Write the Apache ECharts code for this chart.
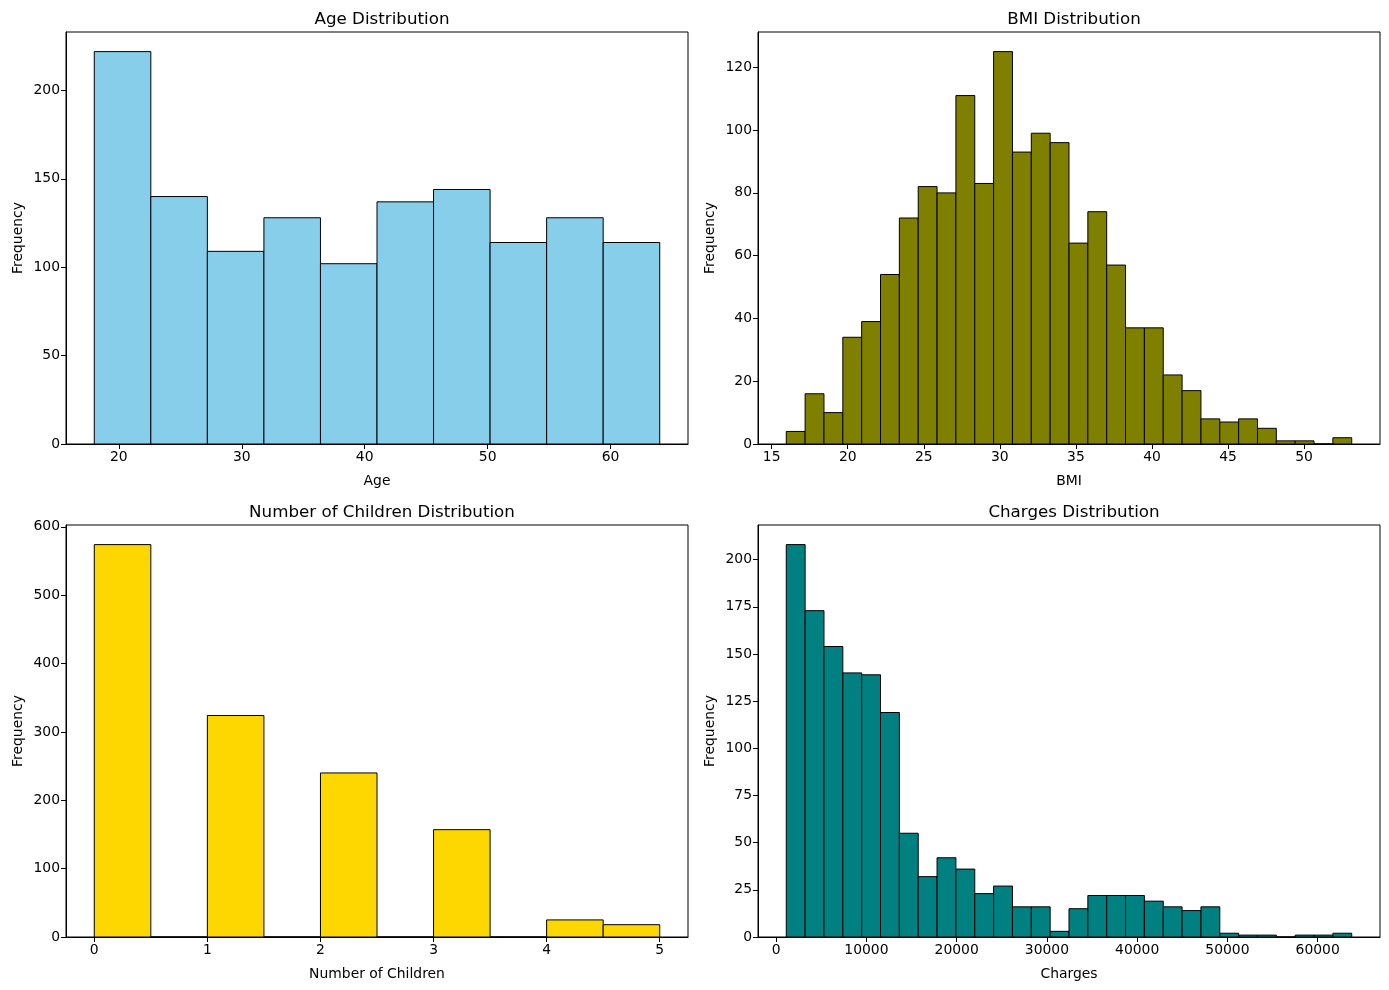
<!DOCTYPE html>
<html>
<head>
<meta charset="utf-8">
<script src="https://cdn.jsdelivr.net/npm/echarts@6/dist/echarts.min.js"></script>
<style>html,body{margin:0;padding:0;background:#fff}#c{width:1389px;height:990px}</style>
</head>
<body>
<div id="c"></div>
<script>
// ---- Data ----
const ageRange = [18, 64];
const ageCounts = [222, 140, 109, 128, 102, 137, 144, 114, 128, 114];
const ageXTicks = [20, 30, 40, 50, 60];
const ageYTicks = [0, 50, 100, 150, 200];

const bmiRange = [15.96, 53.13];
const bmiCounts = [4, 16, 10, 34, 39, 54, 72, 82, 80, 111, 83, 125, 93, 99, 96, 64, 74, 57, 37, 37, 22, 17, 8, 7, 8, 5, 1, 1, 0, 2];
const bmiXTicks = [15, 20, 25, 30, 35, 40, 45, 50];
const bmiYTicks = [0, 20, 40, 60, 80, 100, 120];

const childRange = [0, 5];
const childCounts = [574, 0, 324, 0, 240, 0, 157, 0, 25, 18];
const childXTicks = [0, 1, 2, 3, 4, 5];
const childYTicks = [0, 100, 200, 300, 400, 500, 600];

const chargeRange = [1121.87, 63770.43];
const chargeCounts = [208, 173, 154, 140, 139, 119, 55, 32, 42, 36, 23, 27, 16, 16, 3, 15, 22, 22, 22, 19, 16, 14, 16, 2, 1, 1, 0, 1, 1, 2];
const chargeXTicks = [0, 10000, 20000, 30000, 40000, 50000, 60000];
const chargeYTicks = [0, 25, 50, 75, 100, 125, 150, 175, 200];

const titles = ['Age Distribution', 'BMI Distribution', 'Number of Children Distribution', 'Charges Distribution'];
const xNames = ['Age', 'BMI', 'Number of Children', 'Charges'];
const colors = ['#87CEEB', '#808000', '#FFD700', '#008080'];

// ---- Build ----
function bins(range, counts) {
  const w = (range[1] - range[0]) / counts.length;
  return counts.map((c, i) => [range[0] + i * w, range[0] + (i + 1) * w, c]);
}
const panels = [
  {range: ageRange, counts: ageCounts, xt: ageXTicks, yt: ageYTicks},
  {range: bmiRange, counts: bmiCounts, xt: bmiXTicks, yt: bmiYTicks},
  {range: childRange, counts: childCounts, xt: childXTicks, yt: childYTicks},
  {range: chargeRange, counts: chargeCounts, xt: chargeXTicks, yt: chargeYTicks}
];
const gridPos = [
  {left: 66, top: 32}, {left: 758, top: 32},
  {left: 66, top: 525}, {left: 758, top: 525}
];
const GW = 622, GH = 412;
const FONT = 'DejaVu Sans';
const tickFont = 13.9;
const plain = v => String(v);

const option = {
  animation: false,
  backgroundColor: '#fff',
  title: [], grid: [], xAxis: [], yAxis: [], series: []
};

panels.forEach((p, i) => {
  const span = p.range[1] - p.range[0];
  const xmin = p.range[0] - span * 0.05, xmax = p.range[1] + span * 0.05;
  const ymax = Math.max(...p.counts) * 1.05;
  const g = gridPos[i];
  option.title.push({
    text: titles[i], left: g.left + GW / 2, top: g.top - 26, textAlign: 'center',
    textStyle: {fontFamily: FONT, fontSize: 16.7, fontWeight: 'normal', color: '#000'}
  });
  option.grid.push({left: g.left, top: g.top, width: GW, height: GH, show: true, borderColor: '#000', borderWidth: 1, backgroundColor: 'transparent'});
  option.xAxis.push({
    type: 'value', gridIndex: i, min: xmin, max: xmax,
    name: xNames[i], nameLocation: 'middle', nameGap: 30,
    nameTextStyle: {fontFamily: FONT, fontSize: tickFont, color: '#000'},
    axisLine: {show: true, onZero: false, lineStyle: {color: '#000', width: 1}},
    axisTick: {show: true, inside: false, length: 5, customValues: p.xt, lineStyle: {color: '#000'}},
    axisLabel: {customValues: p.xt, formatter: plain, fontFamily: FONT, fontSize: tickFont, color: '#000', margin: 6},
    splitLine: {show: false}
  });
  option.yAxis.push({
    type: 'value', gridIndex: i, min: 0, max: ymax,
    name: 'Frequency', nameLocation: 'middle', nameGap: 41,
    nameTextStyle: {fontFamily: FONT, fontSize: tickFont, color: '#000'},
    axisLine: {show: true, onZero: false, lineStyle: {color: '#000', width: 1}},
    axisTick: {show: true, inside: false, length: 5, customValues: p.yt, lineStyle: {color: '#000'}},
    axisLabel: {customValues: p.yt, formatter: plain, fontFamily: FONT, fontSize: tickFont, color: '#000', margin: 6},
    splitLine: {show: false}
  });
  const color = colors[i];
  option.series.push({
    type: 'custom', xAxisIndex: i, yAxisIndex: i,
    data: bins(p.range, p.counts),
    encode: {x: [0, 1], y: 2},
    renderItem: function (params, api) {
      const p0 = api.coord([api.value(0), 0]);
      const p1 = api.coord([api.value(1), api.value(2)]);
      return {
        type: 'rect',
        shape: {x: p0[0], y: p1[1], width: p1[0] - p0[0], height: p0[1] - p1[1]},
        style: {fill: color, stroke: '#000', lineWidth: 1}
      };
    }
  });
});

const chart = echarts.init(document.getElementById('c'));
chart.setOption(option);
</script>
</body>
</html>
